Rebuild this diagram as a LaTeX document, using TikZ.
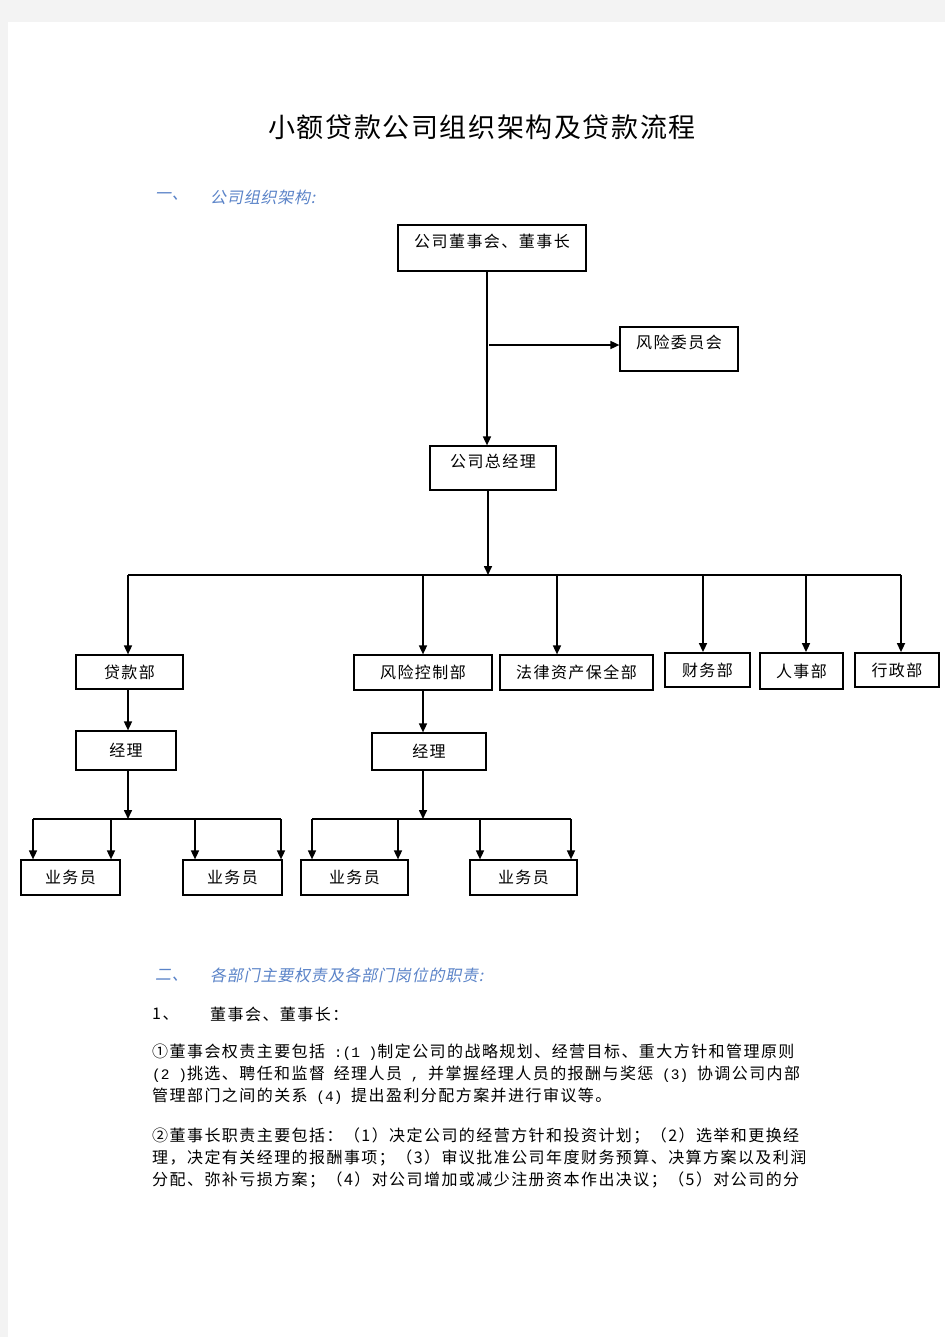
\documentclass[tikz,border=0pt]{standalone}
\usepackage{fontspec}
\setmainfont{Noto Sans CJK SC}
\newfontfamily\cjksp[LetterSpace=9]{Noto Sans CJK SC}
\newfontfamily\cjktitle[LetterSpace=6]{Noto Sans CJK SC}
\newfontfamily\cjkit[FakeSlant=0.2,LetterSpace=5]{Noto Sans CJK SC}
\newfontfamily\halfw{Liberation Mono}
\newcommand\hwt[1]{{\halfw\fontsize{14.5pt}{18pt}\selectfont #1}}
\usetikzlibrary{arrows.meta}
\definecolor{pagegray}{HTML}{F3F3F3}
\definecolor{headblue}{HTML}{5A83C8}
\begin{document}
\begin{tikzpicture}[x=1pt,y=-1pt,
  box/.style={draw, line width=1.2pt, inner sep=0pt, font=\cjksp\fontsize{16pt}{19pt}\selectfont},
  heavybox/.style={box, line width=1.8pt},
  raised/.style={text height=11pt, text depth=12pt},
  conn/.style={line width=1.6pt},
  arr/.style={conn, -{Triangle[length=9pt,width=8pt]}},
  body/.style={anchor=west, inner sep=0pt, font=\cjksp\fontsize{16pt}{19pt}\selectfont},
  head/.style={anchor=west, inner sep=0pt, text=headblue, font=\cjkit\fontsize{16pt}{19pt}\selectfont},
]
\useasboundingbox (0,0) rectangle (945,1337);
\fill[pagegray] (0,0) rectangle (945,1337);
\fill[white] (8,22) rectangle (945,1337);

% title and headings
\node[inner sep=0pt, font=\cjktitle\fontsize{27pt}{30pt}\selectfont] (title) at (482,127) {小额贷款公司组织架构及贷款流程};
\node[head] (h1n) at (155,197) {一、};
\node[head] (h1) at (210,197) {公司组织架构:};

% boxes
\node[box, raised, minimum width=188pt, minimum height=46pt] (board) at (492,248) {公司董事会、董事长};
\node[box, raised, minimum width=118pt, minimum height=44pt] (risk) at (679,349) {风险委员会};
\node[box, raised, minimum width=126pt, minimum height=44pt] (gm) at (493,468) {公司总经理};

\node[box, minimum width=107pt, minimum height=34pt] (loan) at (129.5,672) {贷款部};
\node[box, minimum width=138pt, minimum height=35pt] (riskctl) at (423,672.5) {风险控制部};
\node[box, minimum width=153pt, minimum height=35pt] (legal) at (576.5,672.5) {法律资产保全部};
\node[heavybox, minimum width=85pt, minimum height=34pt] (fin) at (707.5,670) {财务部};
\node[heavybox, minimum width=83pt, minimum height=36pt] (hr) at (801.5,671) {人事部};
\node[heavybox, minimum width=84pt, minimum height=34pt] (adm) at (897,670) {行政部};

\node[box, minimum width=100pt, minimum height=39pt] (mgr1) at (126,750.5) {经理};
\node[box, minimum width=114pt, minimum height=37pt] (mgr2) at (429,751.5) {经理};

\node[box, minimum width=99pt, minimum height=35pt] (s1) at (70.5,877.5) {业务员};
\node[box, minimum width=99pt, minimum height=35pt] (s2) at (232.5,877.5) {业务员};
\node[box, minimum width=107pt, minimum height=35pt] (s3) at (354.5,877.5) {业务员};
\node[box, minimum width=107pt, minimum height=35pt] (s4) at (523.5,877.5) {业务员};

% top connectors
\draw[arr] ([xshift=-5pt]board.south) -- ([xshift=-6pt]gm.north);
\coordinate (br) at (489,345);
\draw[arr] (br) -- (br -| risk.west);

% main bus
\coordinate (bus) at (128,575);
\coordinate (busE) at (901,575);
\coordinate (dl) at (557,575);
\coordinate (df) at (703,575);
\coordinate (dh) at (806,575);
\draw[conn] (bus) -- (busE);
\draw[arr] ([xshift=-5pt]gm.south) -- ([xshift=-5pt]gm.south |- bus);
\draw[arr] (bus) -- (bus |- loan.north);
\draw[arr] (riskctl.north |- bus) -- (riskctl.north);
\draw[arr] (dl) -- (dl |- legal.north);
\draw[arr] (df) -- (df |- fin.north);
\draw[arr] (dh) -- (dh |- hr.north);
\draw[arr] (busE) -- (busE |- adm.north);

% left branch
\coordinate (sb1) at (33,819);
\coordinate (sb1e) at (281,819);
\coordinate (a2) at (111,819);
\coordinate (a3) at (195,819);
\coordinate (lc) at (128,0);
\draw[arr] (lc |- loan.south) -- (lc |- mgr1.north);
\draw[arr] (lc |- mgr1.south) -- (lc |- sb1);
\draw[conn] (sb1) -- (sb1e);
\draw[arr] (sb1) -- (sb1 |- s1.north);
\draw[arr] (a2) -- (a2 |- s1.north);
\draw[arr] (a3) -- (a3 |- s2.north);
\draw[arr] (sb1e) -- (sb1e |- s2.north);

% right branch
\coordinate (sb2) at (312,819);
\coordinate (sb2e) at (571,819);
\coordinate (b2) at (398,819);
\coordinate (b3) at (480,819);
\draw[arr] (riskctl.south) -- (riskctl.south |- mgr2.north);
\draw[arr] (riskctl.south |- mgr2.south) -- (riskctl.south |- sb2);
\draw[conn] (sb2) -- (sb2e);
\draw[arr] (sb2) -- (sb2 |- s3.north);
\draw[arr] (b2) -- (b2 |- s3.north);
\draw[arr] (b3) -- (b3 |- s4.north);
\draw[arr] (sb2e) -- (sb2e |- s4.north);

% section two
\node[head] (h2n) at (155,975) {二、};
\node[head] (h2) at (210,975) {各部门主要权责及各部门岗位的职责:};
\node[body] (n1) at (152,1014) {1、};
\node[body] (n1t) at (210,1014) {董事会、董事长：};

\node[body] (p1a) at (152,1052) {①董事会权责主要包括\hwt{ :(1 )}制定公司的战略规划、经营目标、重大方针和管理原则};
\node[body] (p1b) at (152,1074) {\hwt{(2 )}挑选、聘任和监督\hwt{ }经理人员\hwt{ , }并掌握经理人员的报酬与奖惩\hwt{ (3) }协调公司内部};
\node[body] (p1c) at (152,1096) {管理部门之间的关系\hwt{ (4) }提出盈利分配方案并进行审议等。};

\node[body] (p2a) at (152,1136) {②董事长职责主要包括：（1）决定公司的经营方针和投资计划；（2）选举和更换经};
\node[body] (p2b) at (152,1158) {理，决定有关经理的报酬事项；（3）审议批准公司年度财务预算、决算方案以及利润};
\node[body] (p2c) at (152,1180) {分配、弥补亏损方案；（4）对公司增加或减少注册资本作出决议；（5）对公司的分};
\end{tikzpicture}
\end{document}
